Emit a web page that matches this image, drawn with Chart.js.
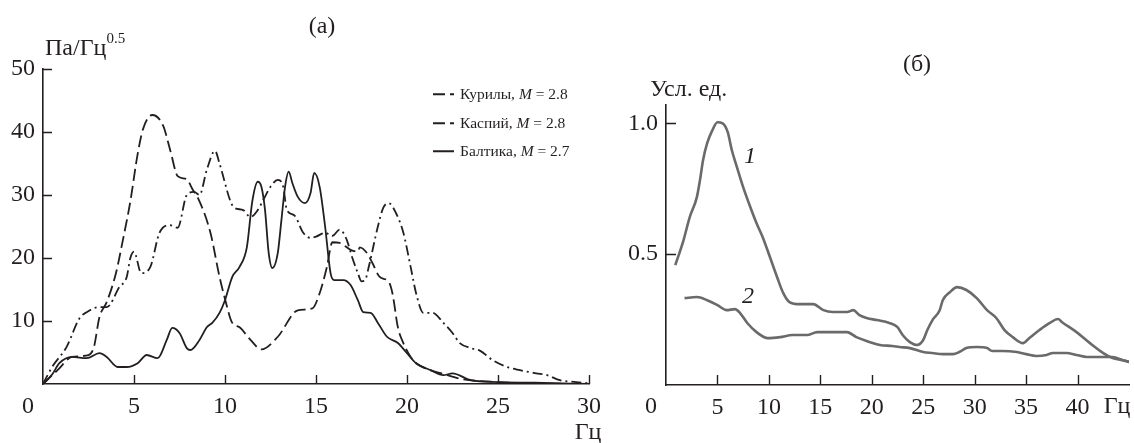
<!DOCTYPE html>
<html><head><meta charset="utf-8">
<script src="https://cdn.jsdelivr.net/npm/chart.js@4.4.0/dist/chart.umd.min.js"></script>
<style>
html,body{margin:0;padding:0;background:#fff;}
#wrap{position:relative;width:1134px;height:443px;overflow:hidden;font-family:"Liberation Serif","Times New Roman",serif;color:#231f20;}
#box1{position:absolute;left:0;top:0;width:610px;height:443px;}
#box2{position:absolute;left:610px;top:0;width:524px;height:443px;}
.t{position:absolute;white-space:nowrap;line-height:1;font-size:24px;transform:translate(-50%,-50%);}
.tl{position:absolute;white-space:nowrap;line-height:1;font-size:24px;transform:translateY(-50%);}
.lg{position:absolute;left:433px;white-space:nowrap;font-size:15.5px;line-height:1;display:flex;align-items:center;transform:translateY(-50%);}
.lg svg{margin-right:6px;}
sup{font-size:15px;vertical-align:top;position:relative;top:-4px;}
</style></head>
<body>
<div id="wrap">
  <div id="box1"><canvas id="c1" width="610" height="443"></canvas></div>
  <div id="box2"><canvas id="c2" width="524" height="443"></canvas></div>
  <div class="t" style="left:322px;top:25px;">(а)</div>
  <div class="tl" style="left:45px;top:47px;">Па/Гц<sup>0.5</sup></div>
  <div class="t" style="left:28px;top:405px;">0</div>
  <div class="t" style="left:588px;top:431px;">Гц</div>
  <div class="lg" style="top:94px;"><svg width="21" height="4"><line x1="0" y1="2" x2="21" y2="2" stroke="#231f20" stroke-width="2" stroke-dasharray="12,5,4,10"/></svg>Курилы, <i>&nbsp;M</i>&nbsp;= 2.8</div>
  <div class="lg" style="top:123px;"><svg width="21" height="4"><line x1="0" y1="2" x2="21" y2="2" stroke="#231f20" stroke-width="2" stroke-dasharray="12,5,4,10"/></svg>Каспий, <i>&nbsp;M</i>&nbsp;= 2.8</div>
  <div class="lg" style="top:151px;"><svg width="21" height="4"><line x1="0" y1="2" x2="21" y2="2" stroke="#231f20" stroke-width="2"/></svg>Балтика, <i>&nbsp;M</i>&nbsp;= 2.7</div>

  <div class="t" style="left:917px;top:63px;">(б)</div>
  <div class="tl" style="left:650px;top:88px;">Усл. ед.</div>
  <div class="t" style="left:651px;top:405px;">0</div>
  <div class="t" style="left:1117px;top:405px;">Гц</div>
  <div class="t" style="left:750px;top:155px;font-style:italic;">1</div>
  <div class="t" style="left:748px;top:295px;font-style:italic;">2</div>
</div>
<script>
// ---------- Panel (а): spectra, Pa/Hz^0.5 vs Hz ----------
const kurFreq = [0, 0.5, 1.3, 2.0, 2.4, 3.1, 3.5, 4.2, 4.6, 4.8, 5.0, 5.4, 5.9, 6.4, 7.0, 7.4, 7.9, 8.3, 8.6, 9.0, 9.45, 9.7, 10.3, 10.5, 11.0, 11.4, 11.8, 12.1, 12.5, 12.9, 13.2, 13.4, 13.8, 14.3, 14.7, 15.0, 15.5, 15.9, 16.3, 16.5, 16.7, 17.0, 17.3, 17.5, 17.7, 17.9, 18.4, 18.7, 19.0, 19.4, 19.8, 20.2, 20.5, 20.9, 21.4, 22.0, 22.5, 22.9, 23.5, 24.0, 24.7, 25.5, 26.2, 27.1, 27.7, 28.4, 29.3, 30];
const kurVals = [0, 2.7, 5.9, 10.4, 11.4, 12.2, 12.2, 15.4, 17, 20, 21, 17.6, 18.6, 24, 25.2, 24.8, 30, 30.5, 30, 34, 37, 35, 29, 28, 27.6, 26.5, 27.6, 29.2, 31.3, 32.4, 31.3, 27.6, 26.8, 24, 23.2, 23.4, 24, 23.5, 24.5, 24, 22.8, 20, 17.6, 16.3, 16.5, 18.6, 25, 28, 28.7, 27.1, 24, 18.6, 14.4, 11.3, 11.3, 9.7, 8.1, 6.5, 5.7, 5.3, 3.8, 2.7, 2.2, 1.7, 1.4, 0.6, 0.3, 0.1];

const kasFreq = [0, 0.8, 1.6, 2.5, 2.8, 3.1, 3.5, 4.0, 4.4, 4.8, 5.2, 5.5, 6.0, 6.6, 7.0, 7.4, 7.9, 8.2, 8.6, 9.2, 9.7, 10.0, 10.4, 10.8, 11.4, 12.0, 12.9, 14.0, 14.8, 15.2, 15.6, 15.9, 16.3, 16.9, 17.3, 17.4, 17.8, 18.1, 18.5, 19.0, 19.2, 19.5, 19.8, 20.2, 20.5, 21.0, 22.0, 23.0, 25.0, 27, 30];
const kasVals = [0, 2.2, 4.3, 4.6, 5.9, 10.6, 13, 17.5, 23, 29, 36.5, 40.5, 42.7, 41, 37, 33, 32.5, 31, 29, 24, 17, 13.5, 9.7, 9, 7, 5.5, 7.5, 11.7, 12, 14.4, 18.6, 22.5, 22.4, 21.3, 21, 21.7, 20.8, 19.2, 17, 16.2, 14.4, 9, 6.5, 4.3, 3.3, 2.5, 1.6, 0.8, 0.3, 0.1, 0];

const balFreq = [0, 0.5, 0.9, 1.6, 2.4, 3.1, 3.5, 4.1, 4.6, 5.2, 5.7, 6.3, 6.8, 7.1, 7.5, 7.9, 8.1, 8.6, 9.0, 9.3, 9.7, 10.0, 10.4, 10.8, 11.2, 11.5, 11.8, 12.0, 12.2, 12.4, 12.6, 12.9, 13.1, 13.3, 13.5, 13.7, 14.0, 14.4, 14.7, 14.9, 15.2, 15.5, 15.8, 16.0, 16.5, 16.9, 17.3, 17.6, 18.0, 18.4, 18.9, 19.5, 20.0, 20.5, 21.3, 22.0, 22.5, 23.5, 25, 27, 30];
const balVals = [0, 1.5, 3.3, 4.3, 4.1, 4.9, 4.3, 2.7, 2.7, 3.3, 4.6, 4.1, 7.0, 8.9, 8.1, 5.7, 5.4, 7.0, 9.0, 9.7, 11.3, 13.3, 17, 18.6, 21.7, 29, 32.1, 31.3, 27.6, 20.8, 18.4, 20.8, 26, 31.3, 33.7, 31.9, 29.7, 28.7, 30.3, 33.5, 31.3, 25, 17.6, 16.5, 16.5, 15.7, 13.3, 11.4, 11.3, 9.7, 7.5, 6.5, 4.9, 3.3, 2.2, 1.4, 1.7, 0.6, 0.3, 0.2, 0];

const xTicksA = [5, 10, 15, 20, 25, 30];
const yTicksA = [10, 20, 30, 40, 50];

// ---------- Panel (б): normalized spectra ----------
const c1Freq = [0.9, 1.7, 2.3, 3.0, 3.3, 3.6, 4.0, 4.5, 5.0, 5.5, 6.0, 6.4, 6.9, 7.5, 8.2, 8.8, 9.4, 10.1, 10.8, 11.4, 12.0, 13.0, 14.3, 15.3, 16.2, 17.6, 18.2, 18.8, 19.5, 20.5, 21.7, 22.5, 23.0, 23.7, 24.4, 25.0, 25.4, 25.9, 26.6, 26.9, 27.6, 28.3, 29.2, 30.2, 31.2, 32.1, 32.9, 33.7, 34.7, 35.3, 36.3, 37.3, 38.1, 38.5, 39.9, 41.2, 42.5, 43.4, 44.4, 45.0];
const c1Vals = [0.458, 0.553, 0.641, 0.718, 0.782, 0.859, 0.924, 0.973, 1.004, 1.0, 0.966, 0.897, 0.832, 0.756, 0.679, 0.618, 0.565, 0.489, 0.412, 0.351, 0.317, 0.309, 0.309, 0.286, 0.279, 0.279, 0.286, 0.267, 0.256, 0.248, 0.237, 0.221, 0.191, 0.164, 0.153, 0.172, 0.210, 0.248, 0.286, 0.324, 0.355, 0.374, 0.363, 0.332, 0.286, 0.256, 0.210, 0.183, 0.160, 0.179, 0.210, 0.237, 0.252, 0.240, 0.202, 0.160, 0.122, 0.103, 0.095, 0.088];

const c2Freq = [1.8, 3.0, 4.0, 5.0, 5.9, 6.7, 7.2, 7.9, 8.8, 9.9, 11.1, 12.3, 13.7, 14.7, 16.2, 17.6, 18.5, 19.5, 20.8, 22.0, 22.7, 23.7, 25.0, 25.9, 26.9, 27.9, 28.5, 29.2, 30.2, 31.2, 31.7, 32.7, 34.1, 35.0, 36.0, 37.0, 37.6, 38.9, 39.9, 40.9, 42.4, 43.4, 44.4, 45.0];
const c2Vals = [0.332, 0.336, 0.324, 0.305, 0.286, 0.290, 0.275, 0.237, 0.202, 0.179, 0.183, 0.191, 0.191, 0.202, 0.202, 0.202, 0.183, 0.168, 0.153, 0.149, 0.145, 0.141, 0.126, 0.122, 0.118, 0.118, 0.126, 0.141, 0.145, 0.141, 0.130, 0.130, 0.126, 0.118, 0.111, 0.115, 0.122, 0.122, 0.115, 0.107, 0.107, 0.107, 0.095, 0.088];

const xTicksB = [5, 10, 15, 20, 25, 30, 35, 40];
const yTicksB = [0.5, 1.0];

const INK = '#231f20';
const GREY = '#6a6a6a';
const pts = (xs, ys) => xs.map((x, i) => ({x, y: ys[i]}));

const inwardTicks = {
  id: 'inwardTicks',
  afterDraw(chart, args, o) {
    const {ctx, chartArea, scales} = chart;
    ctx.save();
    ctx.strokeStyle = o.color; ctx.lineWidth = o.width;
    ctx.beginPath();
    o.xTicks.forEach(v => { const p = Math.round(scales.x.getPixelForValue(v)) + 0.5; ctx.moveTo(p, chartArea.bottom); ctx.lineTo(p, chartArea.bottom - o.len); });
    o.yTicks.forEach(v => { const p = Math.round(scales.y.getPixelForValue(v)) + 0.5; ctx.moveTo(chartArea.left, p); ctx.lineTo(chartArea.left + o.len, p); });
    ctx.stroke();
    ctx.restore();
  }
};

const font = {family: '"Liberation Serif","Times New Roman",serif', size: 24};

function makeAxes(xmin, xmax, ymin, ymax, xt, yt, yw, xh, fmt) {
  return {
    x: {
      type: 'linear', min: xmin, max: xmax,
      afterBuildTicks: s => { s.ticks = xt.map(v => ({value: v})); },
      afterFit: s => { s.height = xh; },
      grid: {drawOnChartArea: false, drawTicks: false, color: 'rgba(0,0,0,0)'},
      border: {display: true, color: INK, width: 1.6},
      ticks: {color: INK, font, padding: 8, maxRotation: 0, autoSkip: false, callback: v => String(v)}
    },
    y: {
      type: 'linear', min: ymin, max: ymax,
      afterBuildTicks: s => { s.ticks = yt.map(v => ({value: v})); },
      afterFit: s => { s.width = yw; },
      grid: {drawOnChartArea: false, drawTicks: false, color: 'rgba(0,0,0,0)'},
      border: {display: true, color: INK, width: 1.6},
      ticks: {color: INK, font, padding: 8, autoSkip: false, callback: fmt}
    }
  };
}

Chart.defaults.animation = false;

new Chart(document.getElementById('c1'), {
  type: 'line',
  data: {
    datasets: [
      {label: 'Курилы, M = 2.8', data: pts(kurFreq, kurVals), borderColor: INK, borderWidth: 1.8, borderDash: [10, 4, 2, 4]},
      {label: 'Каспий, M = 2.8', data: pts(kasFreq, kasVals), borderColor: INK, borderWidth: 1.8, borderDash: [12, 5]},
      {label: 'Балтика, M = 2.7', data: pts(balFreq, balVals), borderColor: INK, borderWidth: 1.8}
    ]
  },
  options: {
    responsive: false, devicePixelRatio: 1,
    parsing: false,
    elements: {point: {radius: 0}, line: {cubicInterpolationMode: 'monotone', fill: false}},
    layout: {padding: {left: 0, top: 69, right: 21, bottom: 0}},
    scales: makeAxes(0, 30, 0, 50, xTicksA, yTicksA, 43, 59, v => String(v)),
    plugins: {legend: {display: false}, tooltip: {enabled: false},
      inwardTicks: {xTicks: xTicksA, yTicks: yTicksA, len: 9, color: INK, width: 1.4}}
  },
  plugins: [inwardTicks]
});

new Chart(document.getElementById('c2'), {
  type: 'line',
  data: {
    datasets: [
      {label: '1', data: pts(c1Freq, c1Vals), borderColor: GREY, borderWidth: 2.6},
      {label: '2', data: pts(c2Freq, c2Vals), borderColor: GREY, borderWidth: 2.6}
    ]
  },
  options: {
    responsive: false, devicePixelRatio: 1,
    parsing: false,
    elements: {point: {radius: 0}, line: {cubicInterpolationMode: 'monotone', fill: false}},
    layout: {padding: {left: 0, top: 105, right: 5, bottom: 0}},
    scales: makeAxes(0, 45, 0, 1.07, xTicksB, yTicksB, 56, 58, v => Number(v).toFixed(1)),
    plugins: {legend: {display: false}, tooltip: {enabled: false},
      inwardTicks: {xTicks: xTicksB, yTicks: yTicksB, len: 10, color: INK, width: 1.4}}
  },
  plugins: [inwardTicks]
});
</script>
</body></html>
